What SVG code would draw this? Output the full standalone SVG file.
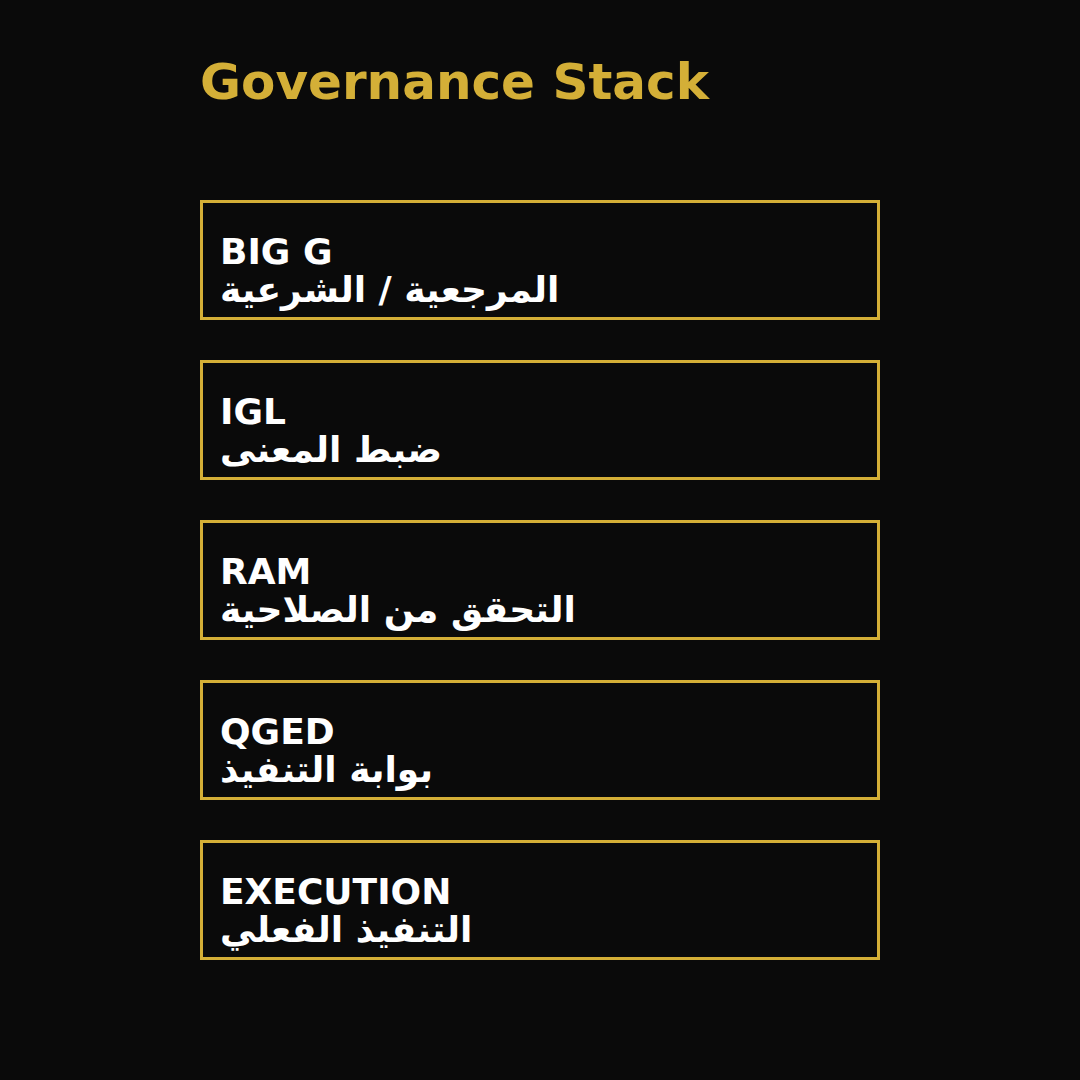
<svg xmlns="http://www.w3.org/2000/svg" width="1080" height="1080" viewBox="0 0 1080 1080">
<style>
.bg{fill:#0a0a0a}
.box{fill:#0a0a0a;stroke:#d4af37;stroke-width:3}
.title{font-family:"DejaVu Sans",sans-serif;font-weight:bold;font-size:50px;fill:#d4af37}
.lbl{font-family:"DejaVu Sans",sans-serif;font-weight:bold;font-size:36px;fill:#ffffff}
</style>
<rect class="bg" x="0" y="0" width="1080" height="1080"/>
<text class="title" x="200" y="99">Governance Stack</text>
<g id="connectors"></g>
<g id="node-biggs">
<rect class="box" x="201.5" y="201.5" width="677" height="117"/>
<text class="lbl" x="220" y="264">BIG G</text>
<text class="lbl" x="220" y="302">المرجعية / الشرعية</text>
</g>
<g id="node-igl">
<rect class="box" x="201.5" y="361.5" width="677" height="117"/>
<text class="lbl" x="220" y="424">IGL</text>
<text class="lbl" x="220" y="462">ضبط المعنى</text>
</g>
<g id="node-ram">
<rect class="box" x="201.5" y="521.5" width="677" height="117"/>
<text class="lbl" x="220" y="584">RAM</text>
<text class="lbl" x="220" y="622">التحقق من الصلاحية</text>
</g>
<g id="node-qged">
<rect class="box" x="201.5" y="681.5" width="677" height="117"/>
<text class="lbl" x="220" y="744">QGED</text>
<text class="lbl" x="220" y="782">بوابة التنفيذ</text>
</g>
<g id="node-execution">
<rect class="box" x="201.5" y="841.5" width="677" height="117"/>
<text class="lbl" x="220" y="904">EXECUTION</text>
<text class="lbl" x="220" y="942">التنفيذ الفعلي</text>
</g>
</svg>
